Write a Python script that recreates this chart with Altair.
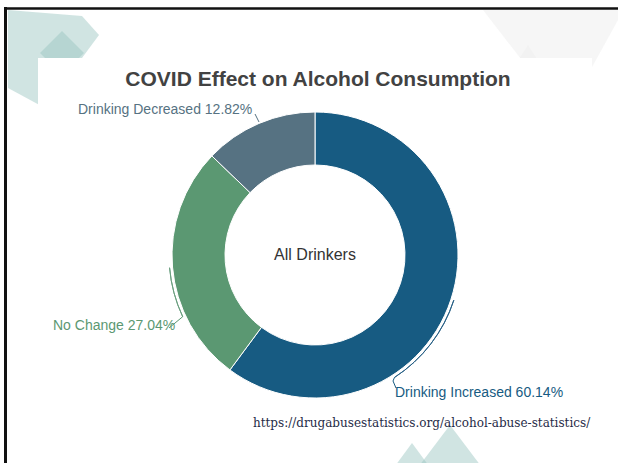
import math
import altair as alt
import pandas as pd

# ---- data ----
categories = ["Drinking Increased", "No Change", "Drinking Decreased"]
shares = [60.14, 27.04, 12.82]

title_text = "COVID Effect on Alcohol Consumption"
center_text = "All Drinkers"
source_text = "https://drugabusestatistics.org/alcohol-abuse-statistics/"

# ---- styles / layout ----
seg_colors = ["#175b82", "#5b9872", "#567282"]
label_colors = ["#2a6287", "#6a9f7f", "#5d7787"]
label_x = [395, 53, 78]
label_y = [393, 326, 110]

W, H = 618, 463
CX, CY = 315, 255
R_OUT, R_IN = 143, 90
R_LEAD = 146

# leader arcs (degrees, clockwise from 12 o'clock) for Increased and No Change
lead_arc_cat = ["Drinking Increased", "No Change"]
lead_arc_start = [108, 245]
lead_arc_end = [147, 265]

# leader tick segments
tick_cat = ["Drinking Decreased", "No Change", "Drinking Increased", "Drinking Increased"]
tick_x1 = [255, 182.7, 394.5, 393]
tick_y1 = [114, 316.7, 377.4, 381]
tick_x2 = [259, 169, 393, 396]
tick_y2 = [122, 328, 381, 388]

teal = "#97c3bf"
deco_paths = [
    "M8,10L82,16L99,35L45,108L8,88Z",
    "M62,31L84,53L62,75L40,53Z",
    "M483,10L618,10L618,20L565,116Z",
    "M528,45L560,95L496,95Z",
]
deco_fill = [teal, teal, "#e6e6e6", "#e6e6e6"]
deco_opacity = [0.45, 0.45, 0.35, 0.2]

bottom_paths = [
    "M450,425L490,478L410,478Z",
    "M412,443L440,481L384,481Z",
]

one = pd.DataFrame({"k": [0]})


def deco(path, fill, op):
    return alt.Chart(one).mark_point(
        shape=path, size=4, filled=True, fill=fill, opacity=op, strokeWidth=0
    ).encode(x=alt.value(0), y=alt.value(0))


layers = []
for p, f, o in zip(deco_paths, deco_fill, deco_opacity):
    layers.append(deco(p, f, o))

# white card
layers.append(
    alt.Chart(one).mark_rect(color="white").encode(
        x=alt.value(38), x2=alt.value(592), y=alt.value(58), y2=alt.value(463)
    )
)
for p in bottom_paths:
    layers.append(deco(p, teal, 0.45))

# frame
layers.append(
    alt.Chart(one).mark_rule(color="#111111", strokeWidth=3).encode(
        x=alt.value(5.5), y=alt.value(7), y2=alt.value(463)
    )
)
layers.append(
    alt.Chart(one).mark_rule(color="#111111", strokeWidth=2.5).encode(
        x=alt.value(4), x2=alt.value(618), y=alt.value(8.5)
    )
)

# donut
donut_df = pd.DataFrame({"category": categories, "share": shares, "order": [0, 1, 2]})
color_scale = alt.Scale(domain=categories, range=seg_colors)
layers.append(
    alt.Chart(donut_df).mark_arc(
        radius=R_OUT, radius2=R_IN, stroke="white", strokeWidth=1
    ).encode(
        theta=alt.Theta("share:Q", stack=True),
        order=alt.Order("order:Q"),
        color=alt.Color("category:N", scale=color_scale, legend=None),
        x=alt.value(CX),
        y=alt.value(CY),
    )
)

label_scale = alt.Scale(domain=categories, range=label_colors)

# leader arcs
lead_df = pd.DataFrame({
    "category": lead_arc_cat,
    "t1": [math.radians(a) for a in lead_arc_start],
    "t2": [math.radians(a) for a in lead_arc_end],
})
layers.append(
    alt.Chart(lead_df).mark_arc(
        filled=False, radius=R_LEAD, radius2=R_LEAD - 0.01, strokeWidth=1
    ).encode(
        theta=alt.Theta("t1:Q", scale=None, stack=False),
        theta2="t2:Q",
        stroke=alt.Stroke("category:N", scale=label_scale, legend=None),
        x=alt.value(CX),
        y=alt.value(CY),
    )
)

# leader ticks
tick_df = pd.DataFrame({"category": tick_cat, "x1": tick_x1, "y1": tick_y1,
                        "x2": tick_x2, "y2": tick_y2})
layers.append(
    alt.Chart(tick_df).mark_rule(strokeWidth=1).encode(
        x=alt.X("x1:Q", scale=None), y=alt.Y("y1:Q", scale=None),
        x2="x2:Q", y2="y2:Q",
        color=alt.Color("category:N", scale=label_scale, legend=None),
    )
)

# slice labels
lab_df = pd.DataFrame({
    "category": categories,
    "label": [f"{c} {s:.2f}%" for c, s in zip(categories, shares)],
    "lx": label_x,
    "ly": label_y,
})
layers.append(
    alt.Chart(lab_df).mark_text(
        align="left", baseline="middle", font="Liberation Sans", fontSize=14
    ).encode(
        x=alt.X("lx:Q", scale=None), y=alt.Y("ly:Q", scale=None),
        text="label:N",
        color=alt.Color("category:N", scale=label_scale, legend=None),
    )
)

# title, center, source
layers.append(
    alt.Chart(pd.DataFrame({"t": [title_text]})).mark_text(
        align="center", baseline="middle", font="Liberation Sans", fontSize=21,
        fontWeight="bold", color="#424242"
    ).encode(text="t:N", x=alt.value(318), y=alt.value(80))
)
layers.append(
    alt.Chart(pd.DataFrame({"t": [center_text]})).mark_text(
        align="center", baseline="middle", font="Liberation Sans", fontSize=16,
        color="#333333"
    ).encode(text="t:N", x=alt.value(CX), y=alt.value(CY))
)
layers.append(
    alt.Chart(pd.DataFrame({"t": [source_text]})).mark_text(
        align="left", baseline="middle", font="DejaVu Serif", fontSize=12,
        color="#1f2b47"
    ).encode(text="t:N", x=alt.value(253), y=alt.value(423))
)

chart = alt.layer(*layers).properties(
    width=W, height=H, padding=0, autosize=alt.AutoSizeParams(type="none"),
    background="white"
).configure_view(stroke=None)

chart.save("out.html", embed_options={"renderer": "svg", "actions": False})
